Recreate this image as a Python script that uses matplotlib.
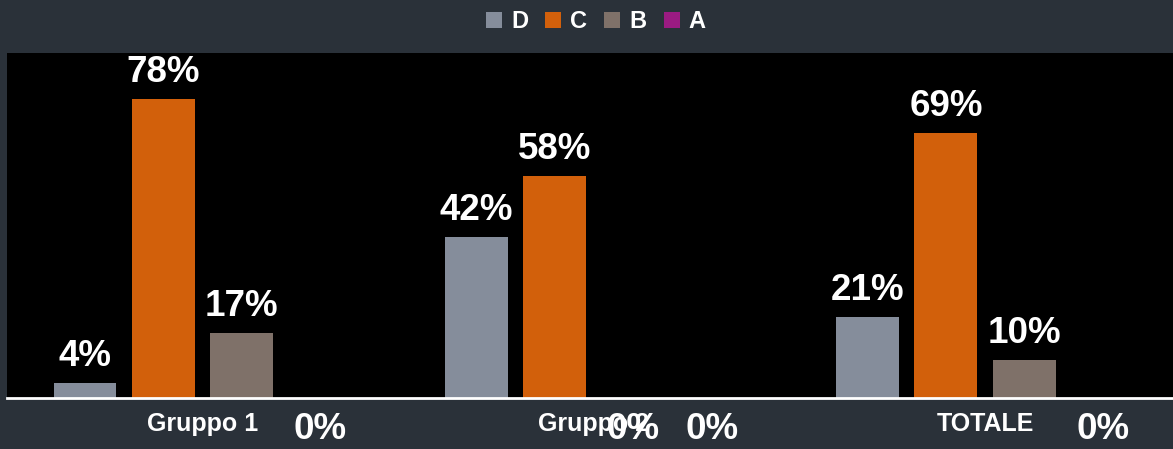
import matplotlib.pyplot as plt
from matplotlib.patches import Patch
import numpy as np

categories = ["Gruppo 1", "Gruppo 2", "TOTALE"]
series = ["D", "C", "B", "A"]
values_d = [4, 42, 21]
values_c = [78, 58, 69]
values_b = [17, 0, 10]
values_a = [0, 0, 0]
colors = ["#858d9b", "#d2600b", "#7f7169", "#9b1b82"]

plt.rcParams['font.family'] = ['Liberation Sans', 'DejaVu Sans']
bg = "#2a3139"

fig = plt.figure(figsize=(11.73, 4.49), dpi=100, facecolor=bg)
ax = fig.add_axes([0.006, 0.1136, 0.994, 0.7684])
ax.set_facecolor("black")

x = np.arange(len(categories))
width = 0.161
step = 0.2005
all_vals = [values_d, values_c, values_b, values_a]
for i, (name, vals, col) in enumerate(zip(series, all_vals, colors)):
    pos = x + (i - 1.5) * step
    ax.bar(pos, vals, width, color=col, label=name)
    for xp, v in zip(pos, vals):
        # zero values get their label under the axis line
        dy = 6.5 if v > 0 else -35.5
        ax.annotate(f"{v}%", (xp, v), xytext=(0, dy), textcoords="offset points",
                    ha="center", va="bottom", color="white", fontsize=26.5, fontweight="bold")

ax.set_xlim(-0.5, 2.48)
ax.set_ylim(0, 90)
ax.set_xticks(x)
ax.set_xticklabels(categories, color="white", fontsize=18, fontweight="bold")
ax.tick_params(axis="x", length=0, pad=10)
ax.set_yticks([])
for s in ["top", "right", "left"]:
    ax.spines[s].set_visible(False)
ax.spines["bottom"].set_color("white")
ax.spines["bottom"].set_linewidth(2)

handles = [Patch(facecolor=c, label=n) for n, c in zip(series, colors)]
leg = fig.legend(handles=handles, loc="upper center", bbox_to_anchor=(0.508, 1.025), ncol=4,
                 frameon=False, handlelength=0.68, handleheight=0.68, handletextpad=0.38,
                 columnspacing=0.72, prop={'weight': 'bold', 'size': 17})
for t in leg.get_texts():
    t.set_color("white")

fig.savefig("out.png", dpi=100, facecolor=bg)
